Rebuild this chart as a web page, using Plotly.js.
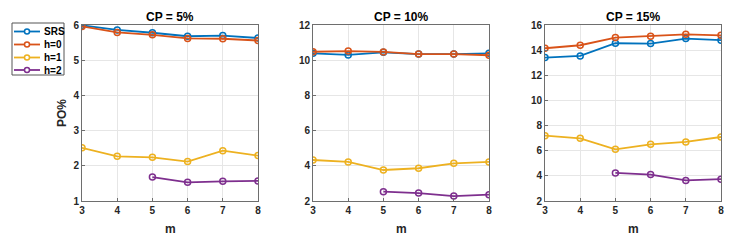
<!DOCTYPE html>
<html><head><meta charset="utf-8">
<script src="https://cdn.plot.ly/plotly-3.0.1.min.js"></script>
<style>html,body{margin:0;padding:0;background:#fff}#c{width:737px;height:246px}</style>
</head><body><div id="c"></div>
<script>
const m = [3,4,5,6,7,8];
const m2 = [5,6,7,8];
const seriesNames = ['SRS','h=0','h=1','h=2'];
const colors = ['#0072BD','#D95319','#EDB120','#7E2F8E'];
const panelTitles = ['CP = 5%','CP = 10%','CP = 15%'];
// CP = 5%
const cp5_SRS = [5.99,5.86,5.78,5.68,5.70,5.63];
const cp5_h0  = [5.96,5.79,5.72,5.62,5.61,5.56];
const cp5_h1  = [2.51,2.27,2.24,2.12,2.43,2.29];
const cp5_h2  = [1.68,1.53,1.56,1.57];
// CP = 10%
const cp10_SRS = [10.39,10.30,10.45,10.35,10.35,10.39];
const cp10_h0  = [10.48,10.52,10.47,10.35,10.35,10.28];
const cp10_h1  = [4.33,4.22,3.76,3.86,4.14,4.22];
const cp10_h2  = [2.53,2.45,2.28,2.36];
// CP = 15%
const cp15_SRS = [13.41,13.54,14.55,14.52,14.92,14.79];
const cp15_h0  = [14.15,14.39,15.00,15.10,15.26,15.18];
const cp15_h1  = [7.20,6.99,6.11,6.51,6.70,7.09];
const cp15_h2  = [4.23,4.10,3.64,3.74];
const yRanges = [[1,6],[2,12],[2,16]];
const yDtick = [1,2,2];

const panels = [
  [cp5_SRS,cp5_h0,cp5_h1,cp5_h2],
  [cp10_SRS,cp10_h0,cp10_h1,cp10_h2],
  [cp15_SRS,cp15_h0,cp15_h1,cp15_h2]
];
const W = 737, H = 246;
const FONT = 'Liberation Sans, Arial, sans-serif';
const xPix = [[82,258],[313,489],[545,721]];
const yDom = [1-201/H, 1-25/H];
const traces = [];
panels.forEach((p,pi)=>{
  p.forEach((vals,si)=>{
    traces.push({
      x: si===3 ? m2 : m, y: vals, type:'scatter', mode:'lines+markers',
      name: seriesNames[si], showlegend:false,
      xaxis: pi===0?'x':'x'+(pi+1), yaxis: pi===0?'y':'y'+(pi+1),
      line:{color:colors[si], width:1.8},
      marker:{symbol:'circle-open', size:6, color:colors[si], line:{width:1.5}}
    });
  });
});
const tickFont = {family:FONT, size:10, color:'#262626', weight:'bold'};
const layout = {
  width:W, height:H, margin:{l:0,r:0,t:0,b:0},
  paper_bgcolor:'#fff', plot_bgcolor:'#fff',
  showlegend:false, annotations:[], shapes:[]
};
for(let i=0;i<3;i++){
  const s = i===0?'':String(i+1);
  layout['xaxis'+s] = {domain:[xPix[i][0]/W, xPix[i][1]/W], range:[3,8], dtick:1, tick0:3,
    anchor:'y'+s, showline:true, mirror:true, linecolor:'#6e6e6e', linewidth:1,
    showgrid:true, gridcolor:'#e6e6e6', zeroline:false, ticks:'inside', ticklen:3, tickcolor:'#6e6e6e',
    tickfont:tickFont, fixedrange:true};
  layout['yaxis'+s] = {domain:yDom, range:yRanges[i], dtick:yDtick[i],
    anchor:'x'+s, showline:true, mirror:true, linecolor:'#6e6e6e', linewidth:1,
    showgrid:true, gridcolor:'#e6e6e6', zeroline:false, ticks:'inside', ticklen:3, tickcolor:'#6e6e6e',
    tickfont:tickFont, fixedrange:true};
  layout.annotations.push({text:panelTitles[i], xref:'paper', yref:'paper',
    x:(xPix[i][0]+xPix[i][1])/2/W, y:1-17/H, xanchor:'center', yanchor:'middle', showarrow:false,
    font:{family:FONT, size:12, color:'#000', weight:'bold'}});
  layout.annotations.push({text:'m', xref:'paper', yref:'paper',
    x:(xPix[i][0]+xPix[i][1])/2/W, y:1-229/H, xanchor:'center', yanchor:'middle', showarrow:false,
    font:{family:FONT, size:12, color:'#262626', weight:'bold'}});
}
layout.annotations.push({text:'PO%', xref:'paper', yref:'paper', x:62/W, y:1-113/H,
  xanchor:'center', yanchor:'middle', textangle:-90, showarrow:false,
  font:{family:FONT, size:12, color:'#262626', weight:'bold'}});
// legend box (MATLAB style, compact)
const px = v => v/W, py = v => 1-v/H;
layout.shapes.push({type:'rect', xref:'paper', yref:'paper', x0:px(12), x1:px(64), y0:py(75), y1:py(23),
  line:{color:'#555', width:1}, fillcolor:'#fff'});
const legY = [31.5,44.5,57.5,70];
seriesNames.forEach((n,i)=>{
  layout.shapes.push({type:'line', xref:'paper', yref:'paper', x0:px(14), x1:px(40), y0:py(legY[i]), y1:py(legY[i]),
    line:{color:colors[i], width:1.8}});
  layout.shapes.push({type:'circle', xref:'paper', yref:'paper', x0:px(24.5), x1:px(29.5), y0:py(legY[i]+2.5), y1:py(legY[i]-2.5),
    line:{color:colors[i], width:1.5}, fillcolor:'#fff'});
  layout.annotations.push({text:n, xref:'paper', yref:'paper', x:px(42), y:py(legY[i]),
    xanchor:'left', yanchor:'middle', showarrow:false,
    font:{family:FONT, size:10, color:'#000', weight:'bold'}});
});
Plotly.newPlot('c', traces, layout, {displayModeBar:false, staticPlot:true});
</script></body></html>
